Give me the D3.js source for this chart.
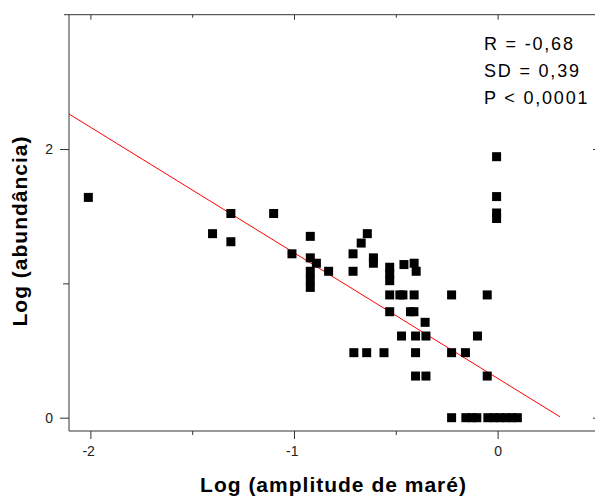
<!DOCTYPE html>
<html>
<head>
<meta charset="utf-8">
<script src="https://d3js.org/d3.v7.min.js"></script>
<style>
  body { margin: 0; background: #fff; }
  text { font-family: Arial, "Liberation Sans", sans-serif; }
</style>
</head>
<body>
<div id="chart"></div>
<script>
// Log (amplitude de maré) for each point
var ampX = [-2.01, -1.31, -1.10, -1.40, -1.31, -0.92, -1.01, -0.92, -0.89, -0.92,
            -0.92, -0.92, -0.83, -0.71, -0.71, -0.64, -0.67, -0.61, -0.61, -0.53,
            -0.53, -0.53, -0.46, -0.41, -0.40,
            -0.53, -0.48, -0.465, -0.41, -0.226, -0.051,
            -0.53, -0.428, -0.411, -0.356,
            -0.472, -0.403, -0.352, -0.099,
            -0.706, -0.643, -0.558, -0.403, -0.226, -0.158,
            -0.403, -0.352, -0.051,
            -0.226, -0.156, -0.126, -0.102, -0.048, -0.018, 0.011, 0.041, 0.070, 0.097,
            -0.005, -0.005, -0.005, -0.005];
// Log (abundância) for each point
var abundY = [1.64, 1.52, 1.52, 1.37, 1.31, 1.35, 1.22, 1.19, 1.15, 1.09,
              1.03, 0.97, 1.09, 1.22, 1.09, 1.37, 1.30, 1.19, 1.15, 1.12,
              1.07, 1.02, 1.14, 1.15, 1.09,
              0.914, 0.914, 0.914, 0.914, 0.914, 0.914,
              0.789, 0.789, 0.789, 0.710,
              0.608, 0.608, 0.608, 0.608,
              0.484, 0.484, 0.484, 0.484, 0.484, 0.484,
              0.310, 0.310, 0.310,
              0, 0, 0, 0, 0, 0, 0, 0, 0, 0,
              1.943, 1.646, 1.524, 1.483];

// fitted line endpoints
var fitX = [-2.105, 0.306];
var fitY = [2.261, 0.007];

var xMajor = [-2, -1, 0], xMinor = [-1.5, -0.5];
var yMajor = [0, 2], yMinor = [1];
var stats = ["R = -0,68", "SD = 0,39", "P < 0,0001"];

var width = 595, height = 498;
var plotLeft = 69, plotRight = 598, plotTop = 14.7, plotBottom = 431;

var svg = d3.select("#chart").append("svg")
  .attr("width", width).attr("height", height);

var x = d3.scaleLinear().domain([-2.105, 0.493]).range([plotLeft, plotRight]);
var y = d3.scaleLinear().domain([-0.099, 3.0]).range([plotBottom, plotTop]);

var axisColor = "#333";
var fmt = function (d) { return String(d); };

function styleAxis(g) {
  g.select(".domain").remove();
  g.selectAll(".tick line").attr("stroke", axisColor);
  g.selectAll(".tick text").attr("fill", "#222").style("font-size", "14px");
}

// bottom axis
svg.append("g").attr("transform", "translate(0," + plotBottom + ")")
  .call(d3.axisBottom(x).tickValues(xMajor).tickSize(8).tickPadding(7).tickFormat(fmt))
  .call(styleAxis)
  .selectAll(".tick text").attr("text-anchor", "end").attr("dx", 4);
svg.append("g").attr("transform", "translate(0," + plotBottom + ")")
  .call(d3.axisBottom(x).tickValues(xMinor).tickSize(4).tickFormat(""))
  .call(styleAxis);

// top axis (ticks inward)
svg.append("g").attr("transform", "translate(0," + plotTop + ")")
  .call(d3.axisTop(x).tickValues(xMajor).tickSize(-5).tickFormat(""))
  .call(styleAxis);
svg.append("g").attr("transform", "translate(0," + plotTop + ")")
  .call(d3.axisTop(x).tickValues(xMinor).tickSize(-3).tickFormat(""))
  .call(styleAxis);

// left axis
svg.append("g").attr("transform", "translate(" + plotLeft + ",0)")
  .call(d3.axisLeft(y).tickValues(yMajor).tickSize(9).tickPadding(7).tickFormat(fmt))
  .call(styleAxis);
svg.append("g").attr("transform", "translate(" + plotLeft + ",0)")
  .call(d3.axisLeft(y).tickValues(yMinor).tickSize(6).tickFormat(""))
  .call(styleAxis);

// right axis (ticks inward)
svg.append("g").attr("transform", "translate(" + plotRight + ",0)")
  .call(d3.axisRight(y).tickValues(yMajor).tickSize(-5).tickFormat(""))
  .call(styleAxis);

// frame lines
svg.append("line").attr("x1", plotLeft).attr("x2", plotLeft).attr("y1", plotTop).attr("y2", plotBottom)
  .attr("stroke", axisColor);
svg.append("line").attr("x1", plotLeft).attr("x2", plotRight).attr("y1", plotBottom).attr("y2", plotBottom)
  .attr("stroke", axisColor);
svg.append("line").attr("x1", plotLeft - 5).attr("x2", plotRight).attr("y1", plotTop).attr("y2", plotTop)
  .attr("stroke", axisColor);

// regression line
svg.append("line")
  .attr("x1", x(fitX[0])).attr("y1", y(fitY[0]))
  .attr("x2", x(fitX[1])).attr("y2", y(fitY[1]))
  .attr("stroke", "#ff0000").attr("stroke-width", 1);

// points
var sz = 9;
svg.selectAll("rect.pt").data(ampX).enter()
  .append("rect").attr("class", "pt")
  .attr("x", function (d) { return x(d) - sz / 2; })
  .attr("y", function (d, i) { return y(abundY[i]) - sz / 2; })
  .attr("width", sz).attr("height", sz)
  .attr("fill", "#000");

// stats text
svg.selectAll("text.stat").data(stats).enter()
  .append("text").attr("class", "stat")
  .attr("x", 484)
  .attr("y", function (d, i) { return 49.5 + i * 27; })
  .style("font-size", "18px").style("letter-spacing", "1.8px")
  .attr("fill", "#000")
  .text(function (d) { return d; });

// axis titles
svg.append("text")
  .attr("x", (plotLeft + plotRight) / 2).attr("y", 491.5)
  .attr("text-anchor", "middle")
  .style("font-size", "21px").style("font-weight", "bold").style("letter-spacing", "1px")
  .text("Log (amplitude de maré)");

svg.append("text")
  .attr("transform", "translate(27,231) rotate(-90)")
  .attr("text-anchor", "middle")
  .style("font-size", "21px").style("font-weight", "bold").style("letter-spacing", "1px")
  .text("Log (abundância)");
</script>
</body>
</html>
